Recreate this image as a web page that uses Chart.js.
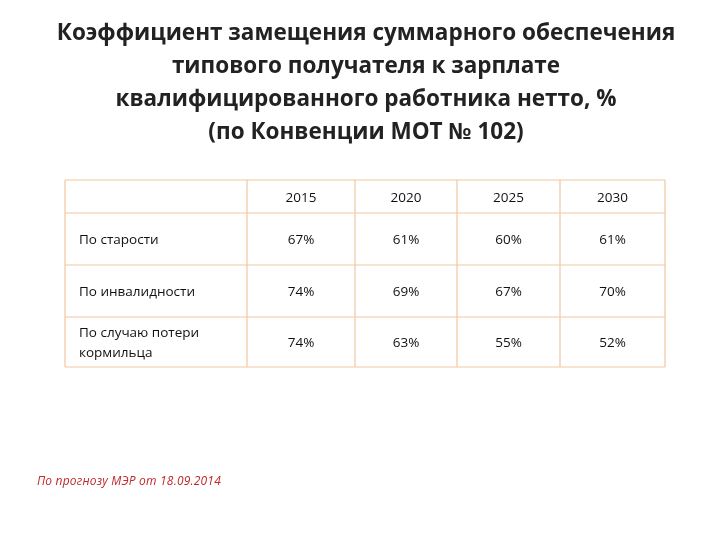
<!DOCTYPE html>
<html><head><meta charset="utf-8">
<script src="https://cdn.jsdelivr.net/npm/chart.js@4"></script>
<style>
body{margin:0;width:720px;height:540px;background:#fff;position:relative;overflow:hidden;font-family:"Open Sans",sans-serif}
#title{position:absolute;left:0;top:15px;width:732px;text-align:center;font-weight:bold;font-size:22.5px;line-height:33px;color:#222}
#note{position:absolute;left:37px;top:472px;font-style:italic;font-size:12px;color:#c0282a;letter-spacing:0.2px}
#wrap{position:absolute;left:0;top:0;width:720px;height:540px}
</style></head><body>
<div id="wrap"><canvas id="c" width="720" height="540"></canvas></div>
<div id="title">Коэффициент замещения суммарного обеспечения<br>типового получателя к зарплате<br>квалифицированного работника нетто, %<br>(по Конвенции МОТ № 102)</div>
<div id="note">По прогнозу МЭР от 18.09.2014</div>
<script>
const years=["2015","2020","2025","2030"];
const rowLabels=[["По старости"],["По инвалидности"],["По случаю потери","кормильца"]];
const values=[[67,61,60,61],[74,69,67,70],[74,63,55,52]];
const colEdges=[0,182,290,392,495,600];
const rowEdges=[0,33,85,137,187];
const tablePlugin={id:"table",afterDraw(ch){
 const x=ch.scales.x,y=ch.scales.y,ctx=ch.ctx;
 ctx.save();ctx.strokeStyle="#f2c79e";ctx.lineWidth=1.2;
 const X=v=>x.getPixelForValue(v),Y=v=>y.getPixelForValue(v);
 colEdges.forEach(c=>{ctx.beginPath();ctx.moveTo(X(c),Y(0));ctx.lineTo(X(c),Y(187));ctx.stroke();});
 rowEdges.forEach(r=>{ctx.beginPath();ctx.moveTo(X(0),Y(r));ctx.lineTo(X(600),Y(r));ctx.stroke();});
 ctx.fillStyle="#111";ctx.font='13.5px "Open Sans"';ctx.textBaseline="middle";
 ctx.textAlign="center";
 years.forEach((yr,i)=>ctx.fillText(yr,X((colEdges[i+1]+colEdges[i+2])/2),Y((rowEdges[0]+rowEdges[1])/2)+2));
 values.forEach((row,r)=>{
  const cy=Y((rowEdges[r+1]+rowEdges[r+2])/2)+1;
  ctx.textAlign="left";
  const lbl=rowLabels[r];
  lbl.forEach((t,k)=>ctx.fillText(t,X(14),cy+(k-(lbl.length-1)/2)*20));
  ctx.textAlign="center";
  row.forEach((v,i)=>ctx.fillText(v+"%",X((colEdges[i+1]+colEdges[i+2])/2),cy));
 });
 ctx.restore();
}};
new Chart(document.getElementById("c"),{type:"scatter",data:{datasets:[{data:[]}]},
options:{responsive:false,animation:false,layout:{padding:{left:65,right:55,top:180,bottom:173}},
plugins:{legend:{display:false},tooltip:{enabled:false}},
scales:{x:{type:"linear",min:0,max:600,display:false},y:{type:"linear",min:0,max:187,reverse:true,display:false}}},
plugins:[tablePlugin]});
</script></body></html>
